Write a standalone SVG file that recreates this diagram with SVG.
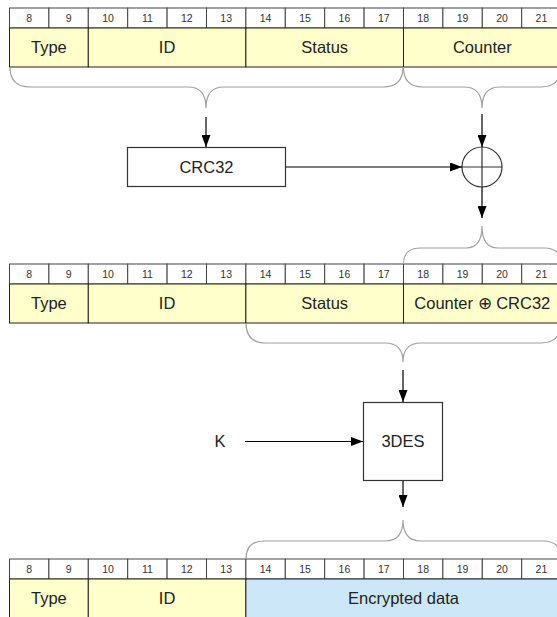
<svg xmlns="http://www.w3.org/2000/svg" width="557" height="617" viewBox="0 0 557 617">
<style>
.num{font-family:"Liberation Sans",Arial,sans-serif;font-size:10.5px;fill:#333;text-anchor:middle}
.lbl{font-family:"Liberation Sans",Arial,sans-serif;font-size:16.5px;fill:#222;text-anchor:middle}
.cell{fill:#fff;stroke:#444;stroke-width:1}
.y{fill:#FFFFCC;stroke:#222;stroke-width:1}
.b{fill:#CCE8F8;stroke:#222;stroke-width:1}
.brace{fill:none;stroke:#a0a0a0;stroke-width:1.2}
.arr{fill:none;stroke:#000;stroke-width:1.2;marker-end:url(#ah)}
.box{fill:#fff;stroke:#333;stroke-width:1.2}
</style>
<defs>
<marker id="ah" markerUnits="userSpaceOnUse" markerWidth="12" markerHeight="9" refX="12" refY="4.5" orient="auto">
<path d="M0,0 L12,4.5 L0,9 z" fill="#000"/>
</marker>
<g id="numrow">
<rect class="cell" x="9.5" y="0" width="39.4" height="20"/>
<rect class="cell" x="48.9" y="0" width="39.4" height="20"/>
<rect class="cell" x="88.3" y="0" width="39.4" height="20"/>
<rect class="cell" x="127.7" y="0" width="39.4" height="20"/>
<rect class="cell" x="167.1" y="0" width="39.4" height="20"/>
<rect class="cell" x="206.5" y="0" width="39.4" height="20"/>
<rect class="cell" x="245.9" y="0" width="39.4" height="20"/>
<rect class="cell" x="285.3" y="0" width="39.4" height="20"/>
<rect class="cell" x="324.7" y="0" width="39.4" height="20"/>
<rect class="cell" x="364.1" y="0" width="39.4" height="20"/>
<rect class="cell" x="403.5" y="0" width="39.4" height="20"/>
<rect class="cell" x="442.9" y="0" width="39.4" height="20"/>
<rect class="cell" x="482.3" y="0" width="39.4" height="20"/>
<rect class="cell" x="521.7" y="0" width="39.4" height="20"/>
<text class="num" x="29.2" y="14">8</text>
<text class="num" x="68.6" y="14">9</text>
<text class="num" x="108" y="14">10</text>
<text class="num" x="147.4" y="14">11</text>
<text class="num" x="186.8" y="14">12</text>
<text class="num" x="226.2" y="14">13</text>
<text class="num" x="265.6" y="14">14</text>
<text class="num" x="305" y="14">15</text>
<text class="num" x="344.4" y="14">16</text>
<text class="num" x="383.8" y="14">17</text>
<text class="num" x="423.2" y="14">18</text>
<text class="num" x="462.6" y="14">19</text>
<text class="num" x="502" y="14">20</text>
<text class="num" x="541.4" y="14">21</text>
</g>
</defs>

<g id="row1">
<use href="#numrow" x="0" y="8"/>
<rect class="y" x="9.5" y="28" width="78.8" height="39"/>
<rect class="y" x="88.3" y="28" width="157.6" height="39"/>
<rect class="y" x="245.9" y="28" width="157.6" height="39"/>
<rect class="y" x="403.5" y="28" width="157.6" height="39"/>
<text class="lbl" x="48.9" y="53.3">Type</text>
<text class="lbl" x="167.1" y="53.3">ID</text>
<text class="lbl" x="324.7" y="53.3">Status</text>
<text class="lbl" x="482.3" y="53.3">Counter</text>
</g>

<g id="row2">
<use href="#numrow" x="0" y="264"/>
<rect class="y" x="9.5" y="284" width="78.8" height="39"/>
<rect class="y" x="88.3" y="284" width="157.6" height="39"/>
<rect class="y" x="245.9" y="284" width="157.6" height="39"/>
<rect class="y" x="403.5" y="284" width="157.6" height="39"/>
<text class="lbl" x="48.9" y="309.3">Type</text>
<text class="lbl" x="167.1" y="309.3">ID</text>
<text class="lbl" x="324.7" y="309.3">Status</text>
<text class="lbl" x="482.3" y="309.3">Counter ⊕ CRC32</text>
</g>

<g id="row3">
<use href="#numrow" x="0" y="559"/>
<rect class="y" x="9.5" y="579" width="78.8" height="39"/>
<rect class="y" x="88.3" y="579" width="157.6" height="39"/>
<rect class="b" x="245.9" y="579" width="315.2" height="39"/>
<text class="lbl" x="48.9" y="604.3">Type</text>
<text class="lbl" x="167.1" y="604.3">ID</text>
<text class="lbl" x="403.5" y="604.3">Encrypted data</text>
</g>

<g id="crc32">
<rect class="box" x="127.5" y="147.5" width="158" height="39"/>
<text class="lbl" x="206.5" y="173">CRC32</text>
</g>

<g id="xor">
<circle cx="482" cy="167" r="20" fill="none" stroke="#333" stroke-width="1.2"/>
<line x1="462" y1="167" x2="502" y2="167" stroke="#333" stroke-width="1.2"/>
<line x1="482" y1="147" x2="482" y2="187" stroke="#333" stroke-width="1.2"/>
</g>

<g id="des">
<rect class="box" x="363.5" y="402.5" width="79" height="78"/>
<text class="lbl" x="403" y="447">3DES</text>
</g>

<g id="key">
<text class="lbl" x="220" y="447">K</text>
</g>

<g id="connectors">
<path class="brace" d="M10,67 Q10,87 30,87 L188,87 Q206,87 206,108 Q206,87 224,87 L383,87 Q403,87 403,67"/>
<path class="brace" d="M403.5,67 Q403.5,87 423,87 L464,87 Q482,87 482,108 Q482,87 500,87 L541,87 Q561,87 561,67"/>
<path class="brace" d="M403.5,264 Q403.5,248 420,248 L466,248 Q482,248 482,226 Q482,248 498,248 L544,248 Q561,248 561,264"/>
<path class="brace" d="M246,323 Q246,343 266,343 L385,343 Q403,343 403,362 Q403,343 421,343 L541,343 Q561,343 561,323"/>
<path class="brace" d="M246,559 Q246,541 264,541 L385,541 Q403,541 403,520 Q403,541 421,541 L543,541 Q561,541 561,559"/>
<line class="arr" x1="206" y1="117" x2="206" y2="147"/>
<line class="arr" x1="482" y1="114" x2="482" y2="147"/>
<line class="arr" x1="286" y1="167" x2="462" y2="167"/>
<line class="arr" x1="482" y1="187" x2="482" y2="218"/>
<line class="arr" x1="403" y1="370" x2="403" y2="402"/>
<line class="arr" x1="245" y1="441.5" x2="363" y2="441.5"/>
<line class="arr" x1="403" y1="481" x2="403" y2="507"/>
</g>
</svg>
